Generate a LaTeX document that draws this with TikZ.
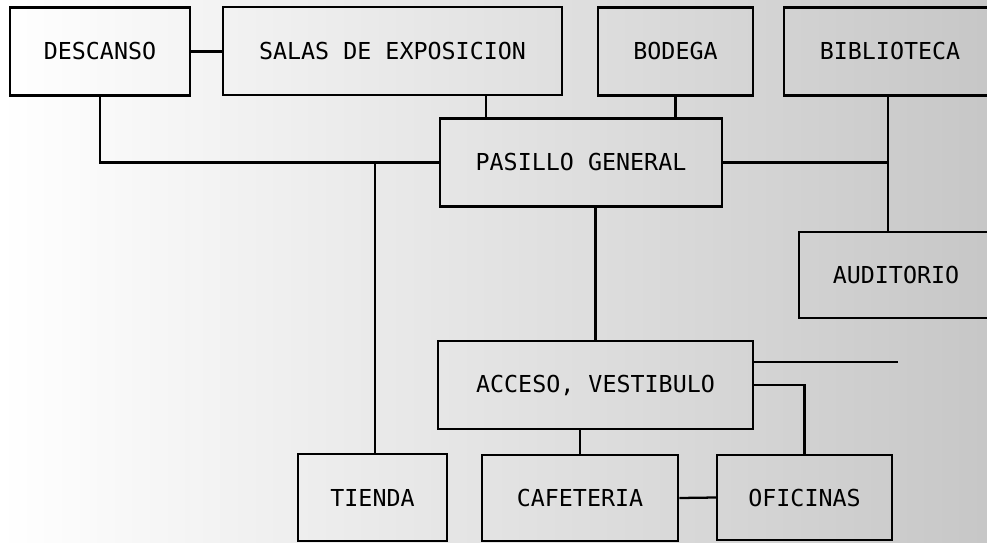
\documentclass[tikz,border=0pt]{standalone}
\usepackage{fontspec}
\setmonofont{DejaVu Sans Mono}
\begin{document}
\begin{tikzpicture}[x=0.75pt, y=-0.75pt,
    room/.style={draw, line width=1.9pt, inner sep=0pt, minimum height=66pt,
      font=\ttfamily\fontsize{17.5}{17.5}\selectfont},
    link/.style={line width=1.7pt}]
    % Page and the grey of the scanned sheet
    \clip (0,0) rectangle (987,542);
    \shade[left color=white, right color=black!22] (0,0) rectangle (987,542);

    % Upper row of rooms
    \node[room, minimum width=135pt] (descanso) at (100,51.5) {DESCANSO};
    \node[room, minimum width=254pt] (salas) at (392.5,51) {SALAS DE EXPOSICION};
    \node[room, minimum width=116pt] (bodega) at (675.5,51.5) {BODEGA};
    \node[room, minimum width=159pt] (biblioteca) at (890,51.5) {BIBLIOTECA};

    % Middle rooms
    \node[room, minimum width=211.5pt] (pasillo) at (581,162.5) {PASILLO GENERAL};
    \node[room, minimum width=145.5pt, minimum height=64.5pt] (auditorio) at (896,275) {AUDITORIO};
    \node[room, minimum width=236pt] (acceso) at (595.5,385) {ACCESO, VESTIBULO};

    % Lower row of rooms
    \node[room, minimum width=112pt, minimum height=65pt] (tienda) at (372.5,497.5) {TIENDA};
    \node[room, minimum width=147pt, minimum height=64.5pt] (cafeteria) at (580,498) {CAFETERIA};
    \node[room, minimum width=131pt, minimum height=64pt] (oficinas) at (804.5,497.5) {OFICINAS};

    % Links round the general hall
    \coordinate (spine) at (888,0);
    \coordinate (salida) at (898,362);
    \draw[link] (descanso.east) -- (descanso.east -| salas.west);
    \draw[link] (486,0 |- salas.south) -- (486,0 |- pasillo.north);
    \draw[link] (bodega.south) -- (bodega.south |- pasillo.north);
    \draw[link] (descanso.south) |- (pasillo.west);
    \draw[link] (375,0 |- tienda.north) -- (375,0 |- pasillo.west);
    \draw[link] (pasillo.east) -- (pasillo.east -| spine);
    \draw[link] (biblioteca.south -| spine) -- (auditorio.north -| spine);
    \draw[link] (acceso.north |- pasillo.south) -- (acceso.north);

    % Links round the entrance
    \draw[link] (salida -| acceso.east) -- (salida);
    \draw[link] (acceso.east) -| (oficinas.north);
    \draw[link] (acceso.south -| cafeteria.north) -- (cafeteria.north);
    \draw[link] (cafeteria.east) -- (oficinas.west);
\end{tikzpicture}
\end{document}
